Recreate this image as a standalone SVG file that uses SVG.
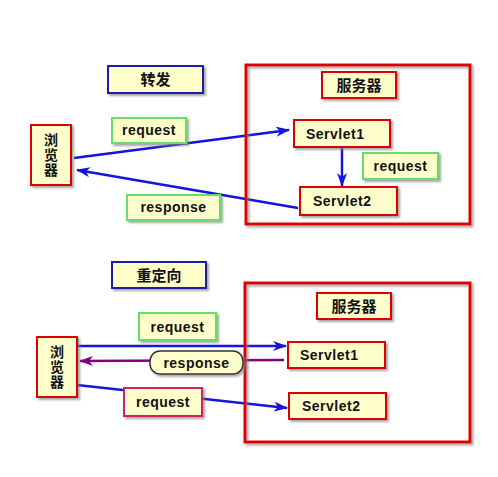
<svg xmlns="http://www.w3.org/2000/svg" width="498" height="477" viewBox="0 0 498 477">
<defs>
<filter id="sh" x="-20%" y="-20%" width="140%" height="140%">
<feDropShadow dx="2" dy="2" stdDeviation="1" flood-color="#808080" flood-opacity="0.7"/>
</filter>
<marker id="ab" markerWidth="14" markerHeight="10" refX="13" refY="5" orient="auto" markerUnits="userSpaceOnUse">
<path d="M0,0 L14,5 L0,10 L4,5 z" fill="#1414dc"/>
</marker>
<marker id="ap" markerWidth="14" markerHeight="10" refX="13" refY="5" orient="auto" markerUnits="userSpaceOnUse">
<path d="M0,0 L14,5 L0,10 L4,5 z" fill="#800080"/>
</marker>
</defs>
<style>
.box{fill:#ffffcc;filter:url(#sh)}
.red{stroke:#dd0000;stroke-width:2}
.blu{stroke:#1a1aaa;stroke-width:2}
.grn{stroke:#66dd66;stroke-width:2}
.pnk{stroke:#cc2266;stroke-width:2}
.pill{stroke:#333333;stroke-width:1.5}
.srv{fill:none;stroke:#dd0000;stroke-width:3;filter:url(#sh)}
.t{font-family:"Liberation Sans",Arial,sans-serif;font-weight:bold;font-size:14px;letter-spacing:0.5px;fill:#111}
.c{font-family:"Noto Sans CJK SC","Liberation Sans",sans-serif;font-weight:bold;font-size:15px;fill:#111}
.v{font-family:"Noto Sans CJK SC","Liberation Sans",sans-serif;font-weight:bold;font-size:14px;letter-spacing:1px;fill:#111;writing-mode:vertical-rl}
.lb{fill:none;stroke:#1414dc;stroke-width:2.5}
.lp{fill:none;stroke:#800080;stroke-width:2.5}
</style>

<g id="connectors">
<line class="lb" x1="74" y1="158" x2="289" y2="130" marker-end="url(#ab)"/>
<line class="lb" x1="298" y1="208" x2="77" y2="170" marker-end="url(#ab)"/>
<line class="lb" x1="342" y1="147" x2="342" y2="186" marker-end="url(#ab)"/>
<line class="lb" x1="77" y1="346" x2="286" y2="346" marker-end="url(#ab)"/>
<line class="lp" x1="284" y1="360" x2="80" y2="361" marker-end="url(#ap)"/>
<line class="lb" x1="77" y1="385" x2="287" y2="408" marker-end="url(#ab)"/>
</g>

<g id="server-top"><rect class="srv" x="246" y="65" width="224" height="159"/></g>
<g id="server-bottom"><rect class="srv" x="245" y="283" width="225" height="159"/></g>

<g id="title-forward"><rect class="box blu" x="108" y="66" width="95" height="27"/><text class="c" x="155.5" y="85" text-anchor="middle">转发</text></g>
<g id="browser-top"><rect class="box red" x="31" y="125" width="40" height="60"/>
<text class="v" x="51" y="155" text-anchor="middle">浏览器</text></g>
<g id="label-request-top"><rect class="box grn" x="112" y="118" width="74" height="25"/><text class="t" x="149" y="135" text-anchor="middle">request</text></g>
<g id="label-response-top"><rect class="box grn" x="127" y="195" width="93" height="25"/><text class="t" x="173.5" y="212" text-anchor="middle">response</text></g>
<g id="server-title-top"><rect class="box red" x="322" y="72" width="74" height="26"/><text class="c" x="359" y="90.5" text-anchor="middle">服务器</text></g>
<g id="servlet1-top"><rect class="box red" x="294" y="120" width="96" height="27"/><text class="t" x="306" y="138.5">Servlet1</text></g>
<g id="label-request-mid"><rect class="box grn" x="363" y="153" width="75" height="26"/><text class="t" x="400.5" y="171" text-anchor="middle">request</text></g>
<g id="servlet2-top"><rect class="box red" x="300" y="187" width="97" height="28"/><text class="t" x="313" y="206">Servlet2</text></g>

<g id="title-redirect"><rect class="box blu" x="112" y="262" width="94" height="26"/><text class="c" x="159" y="280.5" text-anchor="middle">重定向</text></g>
<g id="label-request-bot1"><rect class="box grn" x="139" y="313" width="77" height="27"/><text class="t" x="177.5" y="331.5" text-anchor="middle">request</text></g>
<g id="browser-bottom"><rect class="box red" x="37" y="337" width="40" height="60"/>
<text class="v" x="57" y="367" text-anchor="middle">浏览器</text></g>
<g id="label-response-bot"><rect class="box pill" x="150" y="351" width="93" height="23" rx="10" ry="10"/><text class="t" x="196.5" y="367.5" text-anchor="middle">response</text></g>
<g id="label-request-bot2"><rect class="box pnk" x="124" y="388" width="78" height="28"/><text class="t" x="163" y="407" text-anchor="middle">request</text></g>
<g id="server-title-bottom"><rect class="box red" x="317" y="293" width="74" height="26"/><text class="c" x="354" y="311.5" text-anchor="middle">服务器</text></g>
<g id="servlet1-bottom"><rect class="box red" x="288" y="342" width="97" height="26"/><text class="t" x="300" y="360">Servlet1</text></g>
<g id="servlet2-bottom"><rect class="box red" x="289" y="393" width="97" height="26"/><text class="t" x="302" y="411">Servlet2</text></g>
</svg>
